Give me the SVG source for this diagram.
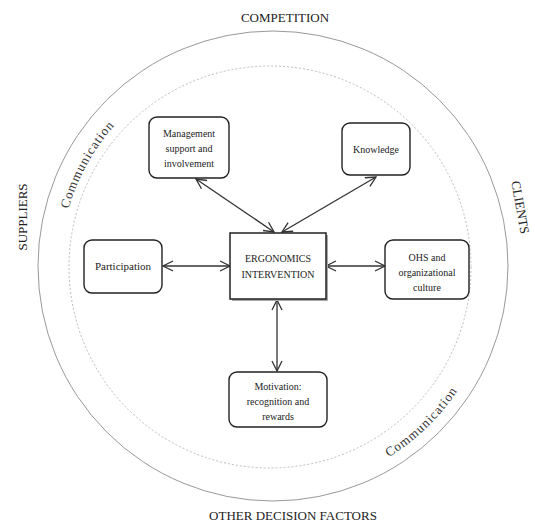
<svg xmlns="http://www.w3.org/2000/svg" width="535" height="526" viewBox="0 0 535 526">
<style>
.lbl{font-family:"Liberation Serif","Times New Roman",serif;font-size:10px;fill:#222;text-anchor:middle}
.big{font-family:"Liberation Serif","Times New Roman",serif;font-size:13px;fill:#222;text-anchor:middle}
.comm{font-family:"Liberation Serif","Times New Roman",serif;font-size:13px;fill:#333;letter-spacing:1px}
.box{fill:#fff;stroke:#222;stroke-width:1.4}
.con{stroke:#333;stroke-width:1.3;fill:none;marker-start:url(#ah);marker-end:url(#ah)}
</style>
<defs>
<marker id="ah" viewBox="0 0 12 12" refX="11" refY="6" markerWidth="12" markerHeight="12" markerUnits="userSpaceOnUse" orient="auto-start-reverse">
<path d="M1,1 L11,6 L1,11" fill="none" stroke="#333" stroke-width="1.3"/>
</marker>
<path id="pl" d="M68.2,325.4 A213,213 0 0 1 213.6,63.2"/>
<path id="pr" d="M268,490 A223,223 0 0 0 495,271"/>
</defs>
<rect width="535" height="526" fill="#fff"/>
<g id="rings">
<circle cx="273" cy="266" r="235" fill="none" stroke="#999" stroke-width="1"/>
<circle cx="270" cy="267" r="201" fill="none" stroke="#bbb" stroke-width="1" stroke-dasharray="2,2"/>
</g>
<g id="outer-labels">
<text class="big" x="285" y="22">COMPETITION</text>
<text class="big" x="293" y="520">OTHER DECISION FACTORS</text>
<text class="big" transform="translate(27,217) rotate(-90)">SUPPLIERS</text>
<text class="big" transform="translate(516,208) rotate(80)">CLIENTS</text>
<text class="comm"><textPath href="#pl" startOffset="50%" text-anchor="middle">Communication</textPath></text>
<text class="comm"><textPath href="#pr" startOffset="50%" text-anchor="middle">Communication</textPath></text>
</g>
<g id="connectors">
<line class="con" x1="196" y1="179" x2="274" y2="232"/>
<line class="con" x1="376" y1="177" x2="282" y2="232"/>
<line class="con" x1="163" y1="266" x2="230" y2="266"/>
<line class="con" x1="326" y1="266" x2="385" y2="266"/>
<line class="con" x1="277" y1="300" x2="277" y2="371"/>
</g>
<g id="ergonomics">
<rect x="232" y="235" width="96" height="66" fill="#aaa"/>
<rect x="230" y="233" width="96" height="66" fill="#fff" stroke="#222" stroke-width="1.5"/>
<text class="lbl" x="278" y="262">ERGONOMICS</text>
<text class="lbl" x="278" y="278">INTERVENTION</text>
</g>
<g id="management">
<rect class="box" x="149" y="117" width="80" height="61" rx="8"/>
<text class="lbl" x="189" y="137">Management</text>
<text class="lbl" x="189" y="152">support and</text>
<text class="lbl" x="189" y="167">involvement</text>
</g>
<g id="knowledge">
<rect class="box" x="342" y="123" width="68" height="52" rx="8"/>
<text class="lbl" x="376" y="153">Knowledge</text>
</g>
<g id="participation">
<rect class="box" x="84" y="240" width="78" height="53" rx="8"/>
<text class="lbl" x="123" y="270" style="font-size:11px">Participation</text>
</g>
<g id="ohs">
<rect class="box" x="385" y="240" width="84" height="59" rx="8"/>
<text class="lbl" x="427" y="261">OHS and</text>
<text class="lbl" x="427" y="276">organizational</text>
<text class="lbl" x="427" y="291">culture</text>
</g>
<g id="motivation">
<rect class="box" x="229" y="372" width="98" height="55" rx="8"/>
<text class="lbl" x="278" y="390">Motivation:</text>
<text class="lbl" x="278" y="405">recognition and</text>
<text class="lbl" x="278" y="420">rewards</text>
</g>
</svg>
